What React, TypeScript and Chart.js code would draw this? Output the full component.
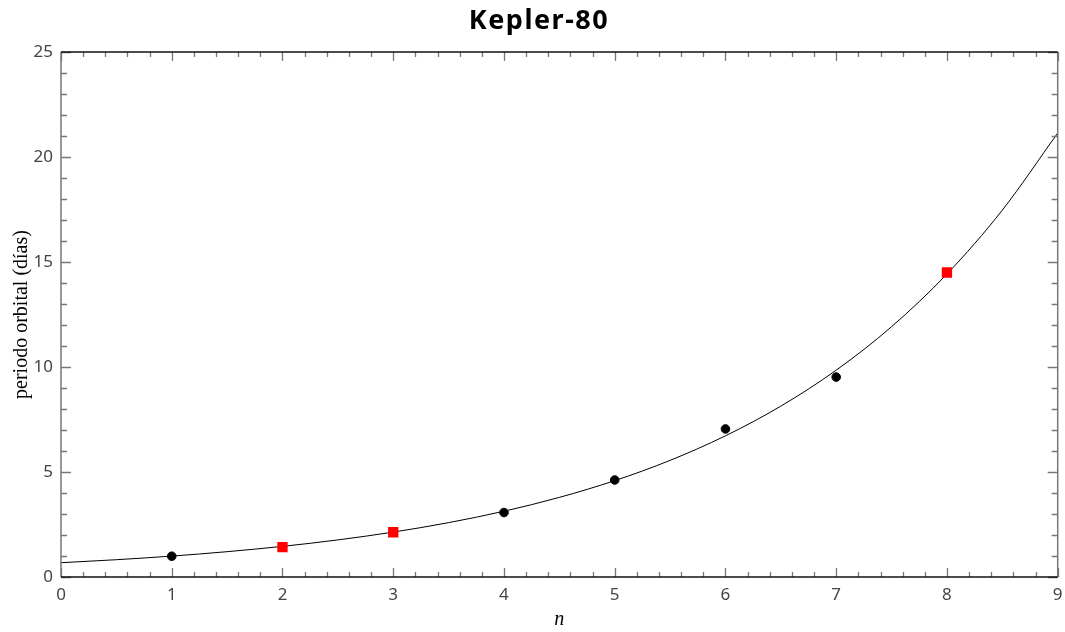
import React, { useEffect, useRef } from "react";
import { Chart, registerables } from "chart.js";

Chart.register(...registerables);

const TITLE = "Kepler-80";
const X_LABEL = "n";
const Y_LABEL = "periodo orbital (días)";

// observed planets (black circles)
const obsN = [1, 4, 5, 6, 7];
const obsP = [0.99, 3.07, 4.62, 7.05, 9.52];

// predicted positions (red squares)
const predN = [2, 3, 8];
const predP = [1.42, 2.13, 14.5];

// fitted curve, values
const curveN = [0, 0.5, 1, 1.5, 2, 2.5, 3, 3.5, 4, 4.5, 5, 5.5, 6, 6.5, 7, 7.5, 8, 8.5, 9];
const curveP = [0.68, 0.823, 0.996, 1.206, 1.459, 1.766, 2.138, 2.588, 3.132, 3.791, 4.589, 5.554, 6.723, 8.137, 9.849, 11.92, 14.43, 17.47, 21.14];

const X_MIN = 0;
const X_MAX = 9;
const Y_MIN = 0;
const Y_MAX = 25;
const X_MAJOR = 1;
const X_MINOR = 0.2;
const Y_MAJOR = 5;
const Y_MINOR = 1;

const axisDecor = {
  id: "axisDecor",
  afterDraw(chart: any) {
    const { ctx, chartArea, scales } = chart;
    const { left, right, top, bottom } = chartArea;
    const x = scales.x;
    const y = scales.y;
    ctx.save();
    ctx.lineWidth = 1.3;
    ctx.strokeStyle = "#777";
    const nx = Math.round((X_MAX - X_MIN) / X_MINOR);
    const perMajX = Math.round(X_MAJOR / X_MINOR);
    for (let i = 0; i <= nx; i++) {
      const v = X_MIN + i * X_MINOR;
      const px = Math.round(x.getPixelForValue(v)) + 0.5;
      const len = i % perMajX === 0 ? 9 : 5;
      ctx.beginPath();
      ctx.moveTo(px, bottom);
      ctx.lineTo(px, bottom - len);
      ctx.moveTo(px, top);
      ctx.lineTo(px, top + len);
      ctx.stroke();
    }
    const ny = Math.round((Y_MAX - Y_MIN) / Y_MINOR);
    const perMajY = Math.round(Y_MAJOR / Y_MINOR);
    for (let i = 0; i <= ny; i++) {
      const v = Y_MIN + i * Y_MINOR;
      const py = Math.round(y.getPixelForValue(v)) + 0.5;
      const len = i % perMajY === 0 ? 10 : 6;
      ctx.beginPath();
      ctx.moveTo(left, py);
      ctx.lineTo(left + len, py);
      ctx.moveTo(right, py);
      ctx.lineTo(right - len, py);
      ctx.stroke();
    }
    // frame
    ctx.lineWidth = 1.5;
    ctx.strokeStyle = "#777";
    ctx.beginPath();
    ctx.moveTo(left, top);
    ctx.lineTo(left, bottom);
    ctx.moveTo(right, top);
    ctx.lineTo(right, bottom);
    ctx.stroke();
    ctx.strokeStyle = "#111";
    ctx.beginPath();
    ctx.moveTo(left, top);
    ctx.lineTo(right, top);
    ctx.moveTo(left, bottom);
    ctx.lineTo(right, bottom);
    ctx.stroke();
    // title
    ctx.fillStyle = "#000";
    ctx.font = 'bold 27px "Noto Sans"';
    try {
      (ctx as any).letterSpacing = "1.5px";
    } catch (e) {}
    ctx.textAlign = "center";
    ctx.textBaseline = "middle";
    ctx.fillText(TITLE, 539, 21);
    ctx.restore();
  },
};

export default function App() {
  const ref = useRef<HTMLCanvasElement | null>(null);
  useEffect(() => {
    if (!ref.current) return;
    const chart = new Chart(ref.current, {
      type: "scatter",
      data: {
        datasets: [
          {
            type: "line",
            label: "ajuste",
            data: curveN.map((n, i) => ({ x: n, y: curveP[i] })),
            borderColor: "#000",
            borderWidth: 1,
            pointRadius: 0,
            cubicInterpolationMode: "monotone",
            fill: false,
            order: 3,
          } as any,
          {
            label: "observados",
            data: obsN.map((n, i) => ({ x: n, y: obsP[i] })),
            backgroundColor: "#000",
            borderColor: "#000",
            borderWidth: 1,
            pointStyle: "circle",
            pointRadius: 4.3,
            order: 1,
          },
          {
            label: "predichos",
            data: predN.map((n, i) => ({ x: n, y: predP[i] })),
            backgroundColor: "#ff0000",
            borderColor: "#ff0000",
            borderWidth: 0,
            pointStyle: "rect",
            pointRadius: 7.3,
            order: 2,
          },
        ],
      },
      options: {
        responsive: false,
        animation: false,
        events: [],
        layout: { padding: { top: 52, right: 6, left: 0, bottom: 0 } },
        plugins: { legend: { display: false }, tooltip: { enabled: false }, title: { display: false } },
        scales: {
          x: {
            type: "linear",
            min: X_MIN,
            max: X_MAX,
            grid: { display: false, drawTicks: false },
            border: { display: false },
            ticks: { stepSize: X_MAJOR, padding: 8, color: "#444", font: { family: "Noto Sans", size: 17 } },
            title: {
              display: true,
              text: X_LABEL,
              color: "#000",
              font: { family: "Liberation Serif", size: 20, style: "italic" },
              padding: { top: 0, bottom: 0 },
            },
            afterFit(s: any) {
              s.height = 55;
              s.paddingLeft = 0;
              s.paddingRight = 0;
            },
          },
          y: {
            type: "linear",
            min: Y_MIN,
            max: Y_MAX,
            grid: { display: false, drawTicks: false },
            border: { display: false },
            ticks: { stepSize: Y_MAJOR, padding: 8, color: "#444", font: { family: "Noto Sans", size: 17 } },
            title: {
              display: true,
              text: Y_LABEL,
              color: "#000",
              font: { family: "Liberation Serif", size: 20 },
              padding: { top: 10, bottom: 0 },
            },
            afterFit(s: any) {
              s.width = 61;
              s.paddingTop = 0;
              s.paddingBottom = 0;
            },
          },
        },
      },
      plugins: [axisDecor],
    });
    return () => chart.destroy();
  }, []);
  return (
    <div style={{ position: "absolute", left: 0, top: 0, width: 1065, height: 632 }}>
      <canvas ref={ref} width={1065} height={632} />
    </div>
  );
}
